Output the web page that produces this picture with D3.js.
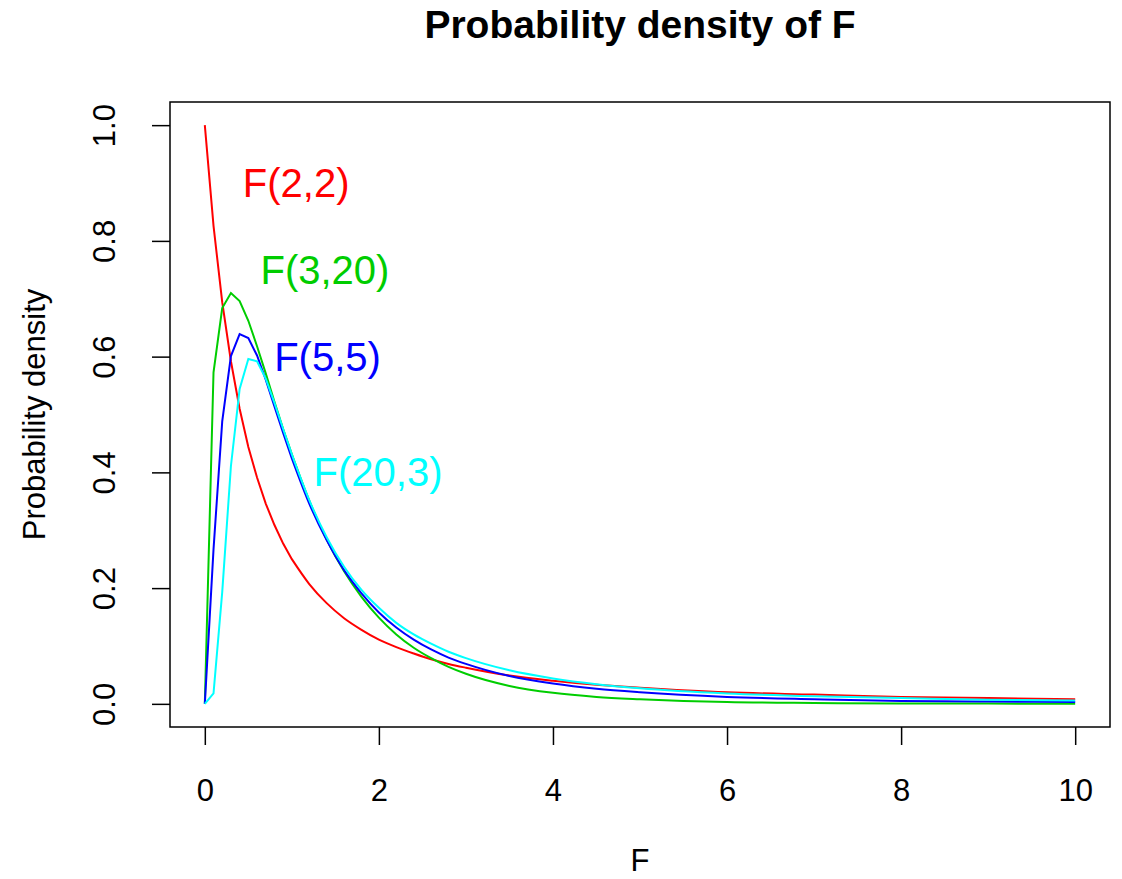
<!DOCTYPE html>
<meta charset="utf-8">
<style>
body { margin: 0; background: #fff; }
text { font-family: "Liberation Sans", Arial, sans-serif; }
.axis text { font-size: 31px; fill: #000; }
.axis line { stroke: #000; stroke-width: 1.5; }
.curve { fill: none; stroke-width: 2; }
</style>
<body>
<script src="https://cdn.jsdelivr.net/npm/d3@7"></script>
<script>

var width = 1122,
    height = 879;

// sample points along F (denser where the curves bend)
var xs = [0, 0.1, 0.2, 0.3, 0.4, 0.5, 0.6, 0.7, 0.8, 0.9, 1.0,
          1.2, 1.4, 1.6, 1.8, 2.0, 2.2, 2.4, 2.6, 2.8, 3.0,
          3.5, 4.0, 4.5, 5, 6, 7, 8, 9, 10];

var f22 = [1.0, 0.826, 0.694, 0.592, 0.510, 0.444, 0.391, 0.346, 0.309, 0.277, 0.250,
           0.207, 0.174, 0.148, 0.128, 0.111, 0.098, 0.087, 0.077, 0.069, 0.0625,
           0.049, 0.040, 0.033, 0.028, 0.020, 0.016, 0.012, 0.010, 0.008];

var f320 = [0, 0.573, 0.684, 0.710, 0.696, 0.662, 0.618, 0.571, 0.522, 0.475, 0.431,
            0.351, 0.284, 0.229, 0.185, 0.149, 0.120, 0.097, 0.079, 0.064, 0.052,
            0.031, 0.019, 0.012, 0.008, 0.003, 0.0015, 0.0007, 0.0004, 0.0002];

var f55 = [0, 0.267, 0.488, 0.601, 0.639, 0.632, 0.602, 0.560, 0.514, 0.468, 0.424,
           0.346, 0.283, 0.231, 0.191, 0.158, 0.132, 0.111, 0.094, 0.080, 0.069,
           0.048, 0.035, 0.026, 0.020, 0.012, 0.008, 0.005, 0.004, 0.003];

var f203 = [0, 0.018, 0.193, 0.411, 0.544, 0.596, 0.592, 0.562, 0.520, 0.475, 0.431,
            0.352, 0.288, 0.237, 0.197, 0.166, 0.140, 0.120, 0.104, 0.090, 0.079,
            0.058, 0.044, 0.034, 0.027, 0.018, 0.013, 0.010, 0.007, 0.006];

var seriesNames = ["F(2,2)", "F(3,20)", "F(5,5)", "F(20,3)"];
var seriesColors = ["#FF0000", "#00CD00", "#0000FF", "#00FFFF"];
var labelX = [1.05, 1.38, 1.41, 1.99];
var labelY = [0.90, 0.75, 0.60, 0.40];

var xTicks = [0, 2, 4, 6, 8, 10];
var yTicks = [0, 0.2, 0.4, 0.6, 0.8, 1.0];

var box = {left: 170, right: 1110, top: 102, bottom: 727};

var x = d3.scaleLinear().domain([-0.4, 10.4]).range([box.left, box.right]);
var y = d3.scaleLinear().domain([-0.04, 1.04]).range([box.bottom, box.top]);

var svg = d3.select("body").append("svg")
    .attr("width", width)
    .attr("height", height);

/*
  Curves: straight segments near the peaks, smooth through the sparser tail
*/

var allSeries = [f22, f320, f55, f203];
var split = xs.indexOf(1.0);

var headLine = d3.line()
    .x(function(d) { return x(d[0]); })
    .y(function(d) { return y(d[1]); });

var tailLine = d3.line()
    .curve(d3.curveMonotoneX)
    .x(function(d) { return x(d[0]); })
    .y(function(d) { return y(d[1]); });

allSeries.forEach(function(vals, i) {
  var pts = xs.map(function(v, j) { return [v, vals[j]]; });
  var d = headLine(pts.slice(0, split + 1)) + tailLine(pts.slice(split)).replace(/^M[^A-Za-z]*/, "");
  svg.append("path")
      .attr("class", "curve")
      .attr("d", d)
      .style("stroke", seriesColors[i]);
});

/*
  Box and axes
*/

svg.append("rect")
    .attr("x", box.left)
    .attr("y", box.top)
    .attr("width", box.right - box.left)
    .attr("height", box.bottom - box.top)
    .style("fill", "none")
    .style("stroke", "#000")
    .style("stroke-width", 1.5);

var xAxis = svg.append("g")
    .attr("class", "axis")
    .attr("transform", "translate(0," + box.bottom + ")")
    .call(d3.axisBottom(x).tickValues(xTicks).tickSize(18).tickSizeOuter(0).tickFormat(d3.format("d")));
xAxis.select(".domain").remove();
xAxis.selectAll("text").attr("y", 74).attr("dy", null);

var yAxis = svg.append("g")
    .attr("class", "axis")
    .attr("transform", "translate(" + box.left + ",0)")
    .call(d3.axisLeft(y).tickValues(yTicks).tickSize(18).tickSizeOuter(0).tickFormat(d3.format(".1f")));
yAxis.select(".domain").remove();
yAxis.selectAll("text")
    .attr("x", null)
    .attr("dy", null)
    .attr("text-anchor", "middle")
    .attr("transform", "translate(-55,0) rotate(-90)");

/*
  Titles
*/

svg.append("text")
    .attr("x", (box.left + box.right) / 2)
    .attr("y", 38)
    .attr("text-anchor", "middle")
    .style("font-size", "39px")
    .style("font-weight", "bold")
    .text("Probability density of F");

svg.append("text")
    .attr("x", (box.left + box.right) / 2)
    .attr("y", 871)
    .attr("text-anchor", "middle")
    .style("font-size", "31px")
    .text("F");

svg.append("text")
    .attr("transform", "translate(45," + (box.top + box.bottom) / 2 + ") rotate(-90)")
    .attr("text-anchor", "middle")
    .style("font-size", "31px")
    .text("Probability density");

/*
  Curve labels
*/

svg.selectAll(".lab")
    .data(seriesNames)
    .enter().append("text")
    .attr("class", "lab")
    .attr("x", function(d, i) { return x(labelX[i]); })
    .attr("y", function(d, i) { return y(labelY[i]); })
    .attr("dy", "0.35em")
    .attr("text-anchor", "middle")
    .style("font-size", "40px")
    .style("fill", function(d, i) { return seriesColors[i]; })
    .text(function(d) { return d; });

</script>
